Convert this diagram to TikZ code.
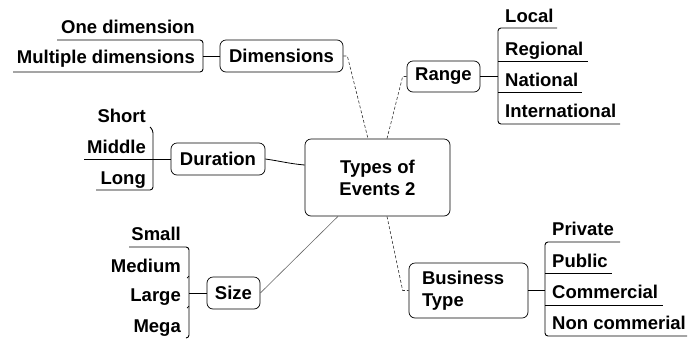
\documentclass[tikz,border=0pt]{standalone}
\usepackage{fontspec}
\setmainfont{Liberation Sans}
\usetikzlibrary{calc}
\begin{document}
\begin{tikzpicture}[x=1pt,y=-1pt,
  every node/.style={font=\fontsize{18.5}{22}\selectfont\bfseries, inner sep=0pt},
  box/.style={draw, line width=0.7pt, rounded corners=6pt, align=center},
  lft/.style={anchor=base east},
  rgt/.style={anchor=base west},
  br/.style={line width=0.9pt, rounded corners=3pt},
  cn/.style={line width=0.8pt},
  dl/.style={line width=0.6pt, densely dashed, black!80},
  gl/.style={line width=0.6pt, black!60}]
\useasboundingbox (0,0) rectangle (699,341);

% boxes
\node[box, minimum width=145pt, minimum height=77pt] (ctr) at (377.5,177.5) {Types of\\Events 2};
\node[box, minimum width=123pt, minimum height=32pt] (dim) at (281.5,56) {Dimensions};
\node[box, minimum width=73pt, minimum height=31pt] (range) at (443.5,76.5) {Range};
\node[box, minimum width=94pt, minimum height=32pt] (dur) at (218,159) {Duration};
\node[box, minimum width=53pt, minimum height=32pt] (size) at (233.5,293) {Size};
\node[box, text width=93pt, inner xsep=13pt, minimum height=55pt, align=left] (bus) at (468.5,290.5) {Business\\Type};

% Dimensions children
\node[lft] (d1) at (195,33) {One dimension};
\node[lft] (d2) at (195,63) {Multiple dimensions};
\draw[br] (57,40) -- (203,40) -- (203,72) -- (13,72);
\coordinate (dimB) at (203,56);
\draw[cn] (dimB) -- (dim.west);

% Range children
\node[rgt] (r1) at (505,22) {Local};
\node[rgt] (r2) at (505,55) {Regional};
\node[rgt] (r3) at (505,86) {National};
\node[rgt] (r4) at (505,117) {International};
\draw[br] (557,28) -- (498,28) -- (498,124) -- (620,124);
\draw[br] (498,61) -- (588,61);
\draw[br] (498,92) -- (582,92);
\coordinate (rangeB) at (498,76.5);
\draw[cn] (range.east) -- (rangeB);

% Duration children
\node[lft] (u1) at (146,122) {Short};
\node[lft] (u2) at (146,153) {Middle};
\node[lft] (u3) at (146,184) {Long};
\draw[br] (150,127) -- (153,130) -- (153,190) -- (96,190);
\draw[br] (84,159) -- (153,159);
\coordinate (durB) at (153,159);
\draw[cn] (durB) -- (dur.west);

% Size children
\node[lft] (s1) at (181,240) {Small};
\node[lft] (s2) at (181,272) {Medium};
\node[lft] (s3) at (181,301) {Large};
\node[lft] (s4) at (181,332) {Mega};
\draw[br] (129,247) -- (189,247) -- (189,338) -- (186,338);
\draw[line width=0.7pt] (187,278) -- (189,276);
\draw[line width=0.7pt] (187,308) -- (189,306);
\coordinate (sizeB) at (189,293);
\draw[cn] (sizeB) -- (size.west);

% Business Type children
\node[rgt] (b1) at (552,235) {Private};
\node[rgt] (b2) at (552,267) {Public};
\node[rgt] (b3) at (552,298) {Commercial};
\node[rgt] (b4) at (552,329) {Non commerial};
\draw[br] (620,242) -- (545,242) -- (545,336) -- (687,336);
\draw[br] (545,273) -- (612,273);
\draw[br] (545,305) -- (663,305);
\coordinate (busB) at (545,290.5);
\draw[cn] (bus.east) -- (busB);

% main connectors
\draw[dl] (dim.east) -- ++(4,0) -- ([xshift=-9.5pt]ctr.north);
\draw[dl] ([xshift=9.5pt]ctr.north) -- ([xshift=-4pt]range.west) -- (range.west);
\draw[dl] ([xshift=9.5pt]ctr.south) -- ([xshift=-6pt]bus.west) -- (bus.west);
\draw[gl] ([xshift=-39.5pt]ctr.south) -- (size.east);
\draw[cn] (dur.east) to[out=-8, in=175] ([yshift=12.5pt]ctr.west);
\end{tikzpicture}
\end{document}
